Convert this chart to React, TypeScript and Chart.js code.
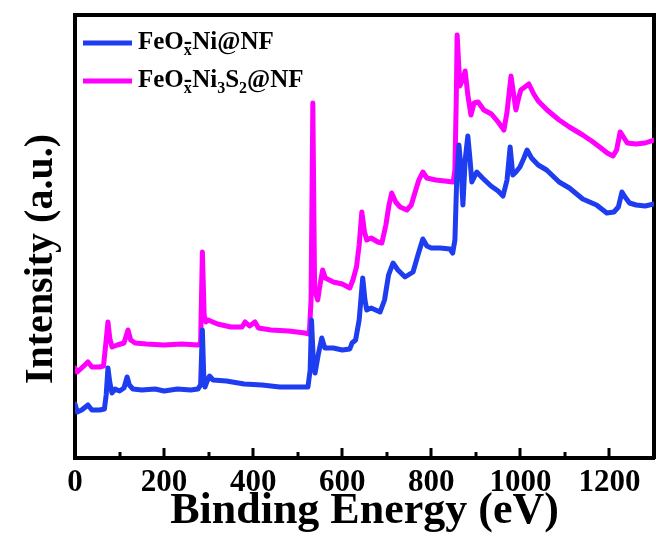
import React, { useEffect, useRef } from 'react';
import { Chart, registerables } from 'chart.js';

Chart.register(...registerables);

// Survey spectrum of FeOx-Ni@NF (binding energy in eV, intensity in a.u.)
const energyNi = [
  0, 5, 15, 29, 38, 55, 66, 70, 74, 78, 83, 90, 100, 110, 117, 122, 130, 150, 180, 200,
  230, 260, 276, 282, 286, 289, 292, 296, 302, 310, 340, 380, 420, 460, 500, 523, 528, 531, 535, 539,
  546, 554, 561, 580, 600, 617, 622, 630, 638, 646, 651, 655, 665, 675, 685, 695, 704, 714, 725, 741,
  759, 770, 781, 790, 800, 820, 842, 848, 853, 857, 862, 867, 871, 876, 882, 887, 891, 902, 915, 934,
  950, 961, 970, 977, 983, 990, 999, 1008, 1015, 1025, 1040, 1059, 1087, 1110, 1140, 1171, 1194, 1210, 1220, 1228,
  1235, 1245, 1260, 1280, 1300,
];
const intensityNi = [
  5.4, 4.6, 4.8, 5.3, 4.8, 4.8, 4.9, 6.3, 9.0, 7.6, 6.5, 6.9, 6.7, 7.0, 8.1, 7.3, 6.9, 6.8, 6.9, 6.7,
  6.9, 6.8, 6.9, 7.3, 12.8, 8.3, 7.1, 7.6, 8.2, 7.8, 7.7, 7.4, 7.3, 7.1, 7.1, 7.1, 8.8, 13.8, 9.8, 8.5,
  10.3, 12.0, 11.0, 11.0, 10.8, 10.9, 11.5, 11.8, 13.8, 18.0, 15.8, 14.8, 15.0, 14.8, 14.6, 15.8, 18.3, 19.5, 18.8, 18.1,
  18.6, 20.3, 21.9, 21.2, 21.0, 21.0, 20.9, 20.5, 21.8, 27.8, 31.3, 28.8, 25.3, 29.8, 32.2, 29.8, 27.6, 28.6, 28.0, 27.2,
  26.7, 26.2, 27.8, 31.1, 28.3, 28.6, 29.1, 30.0, 30.8, 30.0, 29.3, 28.8, 27.6, 27.0, 25.9, 25.3, 24.5, 24.6, 25.1, 26.6,
  26.1, 25.5, 25.3, 25.2, 25.4,
];

// Survey spectrum of FeOx-Ni3S2@NF
const energyNiS = [
  0, 5, 15, 29, 38, 55, 64, 70, 74, 78, 83, 95, 110, 119, 125, 135, 160, 200, 240, 276,
  282, 286, 290, 294, 299, 320, 350, 375, 382, 392, 404, 412, 440, 480, 516, 526, 530, 534, 538, 545,
  550, 556, 562, 580, 600, 617, 624, 632, 638, 644, 650, 655, 665, 680, 689, 698, 705, 711, 720, 730,
  745, 755, 763, 772, 781, 790, 810, 830, 849, 853, 856, 858, 861, 864, 870, 876, 882, 889, 896, 905,
  918, 935, 950, 963, 970, 979, 985, 990, 996, 1001, 1010, 1019, 1030, 1040, 1060, 1087, 1110, 1140, 1160, 1178,
  1195, 1208, 1216, 1224, 1230, 1240, 1260, 1280, 1300,
];
const intensityNiS = [
  9.0, 8.6, 9.0, 9.6, 9.1, 9.1, 9.2, 11.8, 13.6, 12.0, 11.1, 11.3, 11.5, 12.8, 11.8, 11.5, 11.4, 11.3, 11.4, 11.3,
  11.5, 20.6, 14.3, 13.6, 13.8, 13.4, 13.1, 13.1, 13.6, 13.2, 13.6, 13.0, 12.8, 12.7, 12.5, 12.4, 15.8, 35.5, 16.8, 15.8,
  17.3, 18.8, 18.0, 17.6, 17.4, 17.0, 17.8, 19.1, 21.3, 24.6, 22.6, 21.8, 22.0, 21.6, 21.5, 23.3, 25.3, 26.5, 25.6, 25.1,
  24.8, 25.3, 26.5, 27.8, 28.6, 28.0, 27.8, 27.7, 27.6, 28.8, 35.8, 42.3, 39.8, 37.2, 37.8, 38.7, 36.3, 34.3, 35.5, 35.6,
  34.8, 34.4, 33.6, 32.8, 34.6, 38.2, 36.3, 34.8, 36.0, 36.8, 37.1, 37.4, 36.4, 35.7, 34.8, 33.8, 33.1, 32.3, 31.7, 31.1,
  30.5, 30.2, 30.8, 32.6, 32.2, 31.5, 31.4, 31.5, 31.8,
];

const seriesNames = ['FeOx-Ni@NF', 'FeOx-Ni3S2@NF'];
const seriesColors = ['#1F3DF0', '#FF00FF'];

// Legend labels split into normal / subscript runs
type Run = { t: string; sub?: boolean; overlap?: boolean };
const legendRuns: Run[][] = [
  [{ t: 'FeO' }, { t: 'x', sub: true, overlap: true }, { t: '-Ni@NF' }],
  [{ t: 'FeO' }, { t: 'x', sub: true, overlap: true }, { t: '-Ni' }, { t: '3', sub: true }, { t: 'S' }, { t: '2', sub: true }, { t: '@NF' }],
];

const xMin = 0;
const xMax = 1300;
const xLabelValues = [0, 200, 400, 600, 800, 1000, 1200];
const xMajorTicks = [200, 400, 600, 800, 1000, 1200];
const xMinorTicks = [100, 300, 500, 700, 900, 1100];
const xTitle = 'Binding Energy (eV)';
const yTitle = 'Intensity (a.u.)';

const SERIF = '"Liberation Serif", "Times New Roman", Times, serif';

const decorations = {
  id: 'decorations',
  afterDraw(chart: any) {
    const { ctx, chartArea } = chart;
    const xs = chart.scales.x;
    ctx.save();

    // inward tick marks on the bottom axis
    ctx.strokeStyle = '#000';
    ctx.lineWidth = 3;
    ctx.lineCap = 'butt';
    const drawTick = (v: number, len: number) => {
      const px = Math.round(xs.getPixelForValue(v));
      ctx.beginPath();
      ctx.moveTo(px, chartArea.bottom);
      ctx.lineTo(px, chartArea.bottom - len);
      ctx.stroke();
    };
    xMajorTicks.forEach((v) => drawTick(v, 10));
    xMinorTicks.forEach((v) => drawTick(v, 6));

    // tick labels
    ctx.fillStyle = '#000';
    ctx.font = `bold 31px ${SERIF}`;
    ctx.textAlign = 'center';
    ctx.textBaseline = 'alphabetic';
    xLabelValues.forEach((v) => {
      ctx.fillText(String(v), xs.getPixelForValue(v), chartArea.bottom + 33);
    });

    // x title
    ctx.font = `bold 44px ${SERIF}`;
    ctx.fillText(xTitle, (chartArea.left + chartArea.right) / 2, chartArea.bottom + 65);

    // y title
    ctx.save();
    ctx.translate(chartArea.left - 23, chartArea.top + 244);
    ctx.rotate(-Math.PI / 2);
    ctx.font = `bold 40px ${SERIF}`;
    ctx.textAlign = 'center';
    ctx.fillText(yTitle, 0, 0);
    ctx.restore();

    // legend
    legendRuns.forEach((runs, i) => {
      const ly = chartArea.top + 28 + i * 38;
      ctx.strokeStyle = seriesColors[i];
      ctx.lineWidth = 5;
      ctx.beginPath();
      ctx.moveTo(chartArea.left + 8, ly);
      ctx.lineTo(chartArea.left + 57, ly);
      ctx.stroke();
      let tx = chartArea.left + 63;
      const base = ly + 6;
      ctx.textAlign = 'left';
      ctx.fillStyle = '#000';
      runs.forEach((r) => {
        if (r.sub) {
          ctx.font = `bold 16px ${SERIF}`;
          ctx.fillText(r.t, tx, base + 6);
          if (!r.overlap) tx += ctx.measureText(r.t).width;
        } else {
          ctx.font = `bold 25px ${SERIF}`;
          ctx.fillText(r.t, tx, base);
          tx += ctx.measureText(r.t).width;
        }
      });
    });

    ctx.restore();
  },
};

export default function App() {
  const canvasRef = useRef<HTMLCanvasElement>(null);

  useEffect(() => {
    const canvas = canvasRef.current;
    if (!canvas) return;
    const frameBorder = { display: true, width: 4, color: '#000' };
    const chart = new Chart(canvas, {
      type: 'line',
      data: {
        datasets: [
          {
            label: seriesNames[0],
            data: energyNi.map((e, i) => ({ x: e, y: intensityNi[i] })),
            borderColor: seriesColors[0],
            backgroundColor: seriesColors[0],
          },
          {
            label: seriesNames[1],
            data: energyNiS.map((e, i) => ({ x: e, y: intensityNiS[i] })),
            borderColor: seriesColors[1],
            backgroundColor: seriesColors[1],
          },
        ],
      },
      options: {
        animation: false,
        responsive: false,
        devicePixelRatio: 1,
        layout: { padding: { left: 75, right: 2, top: 15, bottom: 80 } },
        elements: {
          line: { borderWidth: 5, tension: 0, borderJoinStyle: 'round', borderCapStyle: 'round' },
          point: { radius: 0, hoverRadius: 0 },
        },
        plugins: { legend: { display: false }, tooltip: { enabled: false } },
        events: [],
        scales: {
          x: {
            type: 'linear',
            position: 'bottom',
            min: xMin,
            max: xMax,
            grid: { display: false, drawTicks: false },
            ticks: { display: false },
            border: frameBorder,
          },
          xTop: {
            type: 'linear',
            position: 'top',
            min: xMin,
            max: xMax,
            grid: { display: false, drawTicks: false },
            ticks: { display: false },
            border: frameBorder,
          },
          y: {
            type: 'linear',
            position: 'left',
            min: 0,
            max: 44.3,
            grid: { display: false, drawTicks: false },
            ticks: { display: false },
            border: frameBorder,
          },
          yRight: {
            type: 'linear',
            position: 'right',
            min: 0,
            max: 44.3,
            grid: { display: false, drawTicks: false },
            ticks: { display: false },
            border: frameBorder,
          },
        },
      },
      plugins: [decorations],
    } as any);
    return () => chart.destroy();
  }, []);

  return (
    <div style={{ position: 'absolute', left: 0, top: 0, width: 656, height: 538, background: '#fff' }}>
      <canvas ref={canvasRef} width={656} height={538} style={{ display: 'block' }} />
    </div>
  );
}
